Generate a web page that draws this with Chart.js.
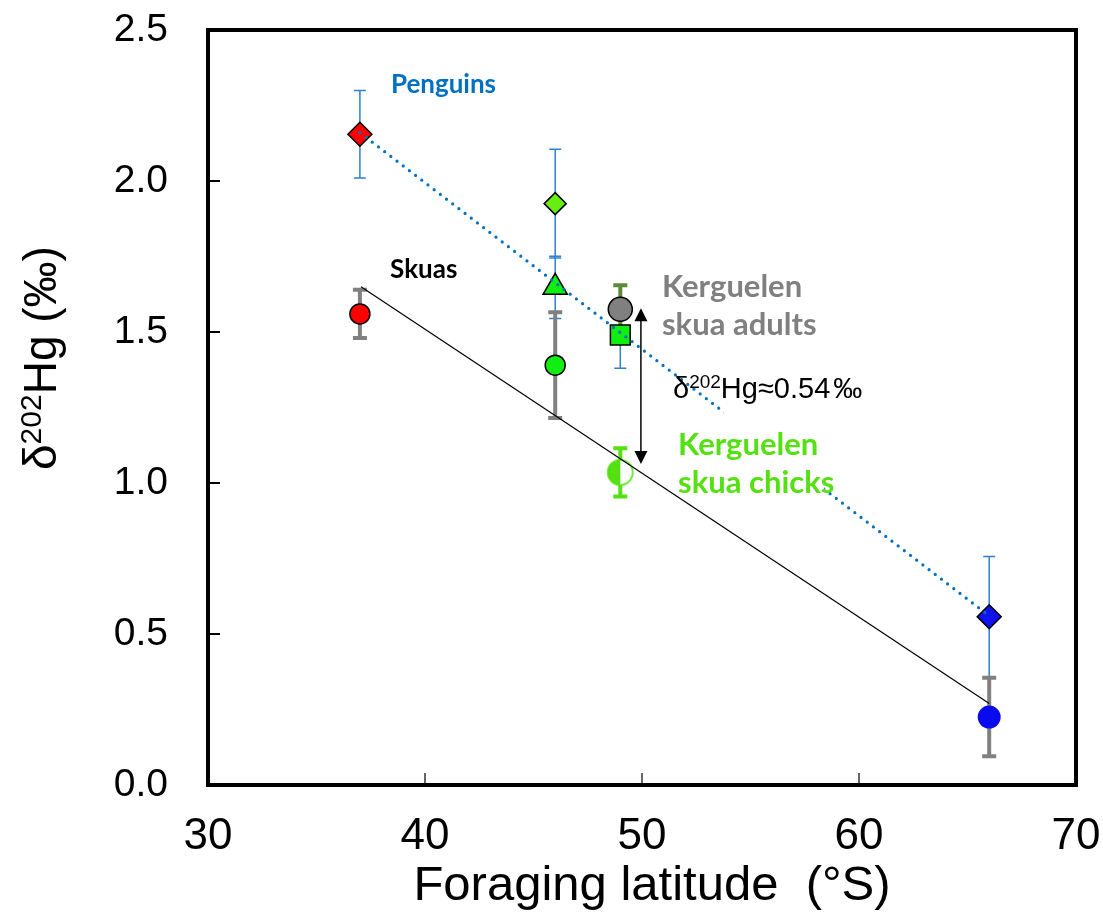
<!DOCTYPE html>
<html>
<head>
<meta charset="utf-8">
<script src="https://cdn.jsdelivr.net/npm/chart.js@4/dist/chart.umd.min.js"></script>
<style>
  body{margin:0;background:#fff}
  #wrap{width:1103px;height:923px}
</style>
</head>
<body>
<div id="wrap"><canvas id="myChart"></canvas></div>
<script>
// penguins (blue thin error bars)
const penguinLat = [37, 46, 46, 49, 66]
const penguinHg = [2.155, 1.925, 1.648, 1.49, 0.557]
const penguinErr = [0.145, 0.18, 0.103, 0.11, 0.2]

// skuas (grey thick error bars)
const skuaLat = [37, 46, 66]
const skuaHg = [1.56, 1.39, 0.225]
const skuaErr = [0.08, 0.175, 0.13]

// Kerguelen skuas
const adultLat = [49]
const adultHg = [1.575]
const adultErr = [0.08]
const chickLat = [49]
const chickHg = [1.035]
const chickErr = [0.08]

// regression lines
const penguinFitLat = [37, 66]
const penguinFitHg = [2.16, 0.56]
const skuaFitLat = [37.05, 66]
const skuaFitHg = [1.65, 0.27]

const xTicks = [30, 40, 50, 60, 70]
const yTicks = [0, 0.5, 1.0, 1.5, 2.0, 2.5]

const pts = (xs, ys) => xs.map((x, i) => ({x: x, y: ys[i]}))

function halfDot(r, color){
  const c = document.createElement('canvas')
  c.width = c.height = 2 * r + 4
  const g = c.getContext('2d')
  const m = r + 2
  g.fillStyle = '#fff'
  g.beginPath(); g.arc(m, m, r, 0, Math.PI * 2); g.fill()
  g.fillStyle = color
  g.beginPath(); g.arc(m, m, r, Math.PI / 2, Math.PI * 1.5); g.closePath(); g.fill()
  g.strokeStyle = color; g.lineWidth = 1.6
  g.beginPath(); g.arc(m, m, r - 0.5, 0, Math.PI * 2); g.stroke()
  return c
}

const SANS = '"Liberation Sans", Arial, sans-serif'

// error bars drawn under the markers
const errorBars = {
  id: 'errorBars',
  beforeDatasetsDraw(chart){
    const ctx = chart.ctx
    const ys = chart.scales.y
    chart.data.datasets.forEach((ds, i) => {
      if (!ds.errors) return
      const meta = chart.getDatasetMeta(i)
      meta.data.forEach((p, j) => {
        const v = ds.data[j].y
        const top = ys.getPixelForValue(v + ds.errors[j])
        const bot = ys.getPixelForValue(v - ds.errors[j])
        const w = ds.errCap
        ctx.save()
        ctx.strokeStyle = ds.errColor
        ctx.lineWidth = ds.errWidth
        ctx.beginPath()
        ctx.moveTo(p.x, top); ctx.lineTo(p.x, bot)
        ctx.moveTo(p.x - w, top); ctx.lineTo(p.x + w, top)
        ctx.moveTo(p.x - w, bot); ctx.lineTo(p.x + w, bot)
        ctx.stroke()
        ctx.restore()
      })
    })
  }
}

// frame, inward ticks, labels, arrow, axis titles
const decorations = {
  id: 'decorations',
  afterDatasetsDraw(chart, args, opts){
    const ctx = chart.ctx
    const xs = chart.scales.x, ys = chart.scales.y
    ctx.save()
    // white box that hides the dotted line behind the text
    const b = opts.mask
    const bx1 = xs.getPixelForValue(b.x1), bx2 = xs.getPixelForValue(b.x2)
    const by1 = ys.getPixelForValue(b.y1), by2 = ys.getPixelForValue(b.y2)
    ctx.fillStyle = '#fff'
    ctx.fillRect(bx1, by1, bx2 - bx1, by2 - by1)

    ctx.textBaseline = 'alphabetic'
    ctx.textAlign = 'left'
    opts.notes.forEach(n => {
      ctx.font = n.font
      ctx.fillStyle = n.color
      ctx.fillText(n.text, xs.getPixelForValue(n.x), ys.getPixelForValue(n.y))
    })

    // δ202Hg≈0.54‰
    const d = opts.delta
    let px = xs.getPixelForValue(d.x), py = ys.getPixelForValue(d.y)
    ctx.fillStyle = '#000'
    ctx.font = '29px ' + SANS
    ctx.fillText('δ', px, py); px += ctx.measureText('δ').width
    ctx.font = '19px ' + SANS
    ctx.fillText('202', px, py - 10); px += ctx.measureText('202').width
    ctx.font = '29px ' + SANS
    ctx.fillText('Hg≈0.54', px, py); px += ctx.measureText('Hg≈0.54').width + 3
    ctx.fillText('‰', px, py)

    // double arrow
    const a = opts.arrow
    const ax = xs.getPixelForValue(a.x)
    const at = ys.getPixelForValue(a.y1), ab = ys.getPixelForValue(a.y2)
    ctx.strokeStyle = '#000'; ctx.lineWidth = 1.5
    ctx.beginPath(); ctx.moveTo(ax, at + 10); ctx.lineTo(ax, ab - 10); ctx.stroke()
    ctx.fillStyle = '#000'
    ctx.beginPath(); ctx.moveTo(ax, at); ctx.lineTo(ax - 6.5, at + 13); ctx.lineTo(ax + 6.5, at + 13); ctx.closePath(); ctx.fill()
    ctx.beginPath(); ctx.moveTo(ax, ab); ctx.lineTo(ax - 6.5, ab - 13); ctx.lineTo(ax + 6.5, ab - 13); ctx.closePath(); ctx.fill()
    ctx.restore()
  },
  afterDraw(chart){
    const ctx = chart.ctx
    const {left, right, top, bottom} = chart.chartArea
    const xs = chart.scales.x, ys = chart.scales.y
    ctx.save()
    ctx.strokeStyle = '#000'
    ctx.lineWidth = 2
    yTicks.slice(1, -1).forEach(v => {
      const y = ys.getPixelForValue(v)
      ctx.beginPath(); ctx.moveTo(left, y); ctx.lineTo(left + 12, y); ctx.stroke()
    })
    ctx.lineWidth = 1.2
    xTicks.slice(1, -1).forEach(v => {
      const x = xs.getPixelForValue(v)
      ctx.beginPath(); ctx.moveTo(x, bottom); ctx.lineTo(x, bottom - 12); ctx.stroke()
    })
    ctx.lineWidth = 4
    ctx.strokeRect(left, top, right - left, bottom - top)

    // x title
    ctx.fillStyle = '#000'
    ctx.font = '49px ' + SANS
    ctx.textAlign = 'center'
    ctx.textBaseline = 'alphabetic'
    ctx.fillText('Foraging latitude  (°S)', (left + right) / 2 + 10, 900)

    // y title with superscript
    ctx.textAlign = 'left'
    ctx.translate(56, 470)
    ctx.rotate(-Math.PI / 2)
    let u = 0
    ctx.font = '46px ' + SANS
    ctx.fillText('δ', u, 0); u += ctx.measureText('δ').width
    ctx.font = '30px ' + SANS
    ctx.fillText('202', u, -15); u += ctx.measureText('202').width
    ctx.font = '46px ' + SANS
    ctx.fillText('Hg (‰)', u, 0)
    ctx.restore()
  }
}

const ctx = document.getElementById('myChart')
const myChart = new Chart(ctx, {
  type: 'scatter',
  data: {
    datasets: [{
      label: 'Penguins fit',
      data: pts(penguinFitLat, penguinFitHg),
      showLine: true,
      pointRadius: 0,
      borderColor: '#0070C0',
      borderWidth: 3.2,
      borderDash: [0, 7.8],
      borderCapStyle: 'round'
    }, {
      label: 'Skuas fit',
      data: pts(skuaFitLat, skuaFitHg),
      showLine: true,
      pointRadius: 0,
      borderColor: '#000',
      borderWidth: 1.2
    }, {
      label: 'Penguins',
      data: pts(penguinLat, penguinHg),
      pointStyle: ['rectRot', 'rectRot', 'triangle', 'rect', 'rectRot'],
      pointRadius: [12, 11, 14, 14, 12],
      pointBackgroundColor: ['#FF0000', '#66EE11', '#11EE11', '#11EE11', '#1212EE'],
      pointBorderColor: '#000',
      pointBorderWidth: 1.5,
      errors: penguinErr, errColor: '#2F80D0', errWidth: 1.5, errCap: 6
    }, {
      label: 'Kerguelen skua adults',
      data: pts(adultLat, adultHg),
      pointStyle: 'circle',
      pointRadius: 12,
      pointBackgroundColor: '#808080',
      pointBorderColor: '#000',
      pointBorderWidth: 1.5,
      errors: adultErr, errColor: '#5E8A3C', errWidth: 4, errCap: 7
    }, {
      label: 'Skuas',
      data: pts(skuaLat, skuaHg),
      pointStyle: 'circle',
      pointRadius: [10, 10, 11.5],
      pointBackgroundColor: ['#FF0000', '#11EE11', '#0A0AEE'],
      pointBorderColor: '#000',
      pointBorderWidth: [1.5, 1.5, 0],
      errors: skuaErr, errColor: '#808080', errWidth: 4, errCap: 7
    }, {
      label: 'Kerguelen skua chicks',
      data: pts(chickLat, chickHg),
      pointStyle: halfDot(13, '#55E011'),
      pointRadius: 13,
      errors: chickErr, errColor: '#55E011', errWidth: 4, errCap: 7
    }]
  },
  options: {
    responsive: true,
    maintainAspectRatio: false,
    animation: false,
    layout: {autoPadding: false, padding: {top: 30, right: 27, left: 0, bottom: 0}},
    plugins: {
      legend: {display: false},
      tooltip: {enabled: false},
      decorations: {
        mask: {x1: 53.75, x2: 58.4, y1: 1.245, y2: 0.972},
        notes: [
          {text: 'Penguins', x: 38.43, y: 2.291, font: 'bold 26px Lato, sans-serif', color: '#0070C0'},
          {text: 'Skuas', x: 38.39, y: 1.679, font: 'bold 26px Lato, sans-serif', color: '#000'},
          {text: 'Kerguelen', x: 50.92, y: 1.616, font: 'bold 31px Lato, sans-serif', color: '#808080'},
          {text: 'skua adults', x: 50.92, y: 1.490, font: 'bold 31px Lato, sans-serif', color: '#808080'},
          {text: 'Kerguelen', x: 51.66, y: 1.093, font: 'bold 31px Lato, sans-serif', color: '#55E011'},
          {text: 'skua chicks', x: 51.66, y: 0.967, font: 'bold 31px Lato, sans-serif', color: '#55E011'}
        ],
        delta: {x: 51.43, y: 1.281},
        arrow: {x: 49.95, y1: 1.579, y2: 1.063}
      }
    },
    scales: {
      x: {
        type: 'linear', min: 30, max: 70,
        afterBuildTicks: s => { s.ticks = xTicks.map(v => ({value: v})) },
        ticks: {color: '#000', font: {family: SANS, size: 44}, padding: 25},
        grid: {display: false, drawTicks: false},
        border: {display: false},
        afterFit: s => { s.height = 138; s.paddingLeft = 0; s.paddingRight = 0 }
      },
      y: {
        type: 'linear', min: 0, max: 2.5,
        afterBuildTicks: s => { s.ticks = yTicks.map(v => ({value: v})) },
        ticks: {color: '#000', font: {family: SANS, size: 39}, padding: 40,
                callback: v => v.toFixed(1)},
        grid: {display: false, drawTicks: false},
        border: {display: false},
        afterFit: s => { s.width = 208; s.paddingTop = 0; s.paddingBottom = 0 }
      }
    }
  },
  plugins: [errorBars, decorations]
})
</script>
</body>
</html>
